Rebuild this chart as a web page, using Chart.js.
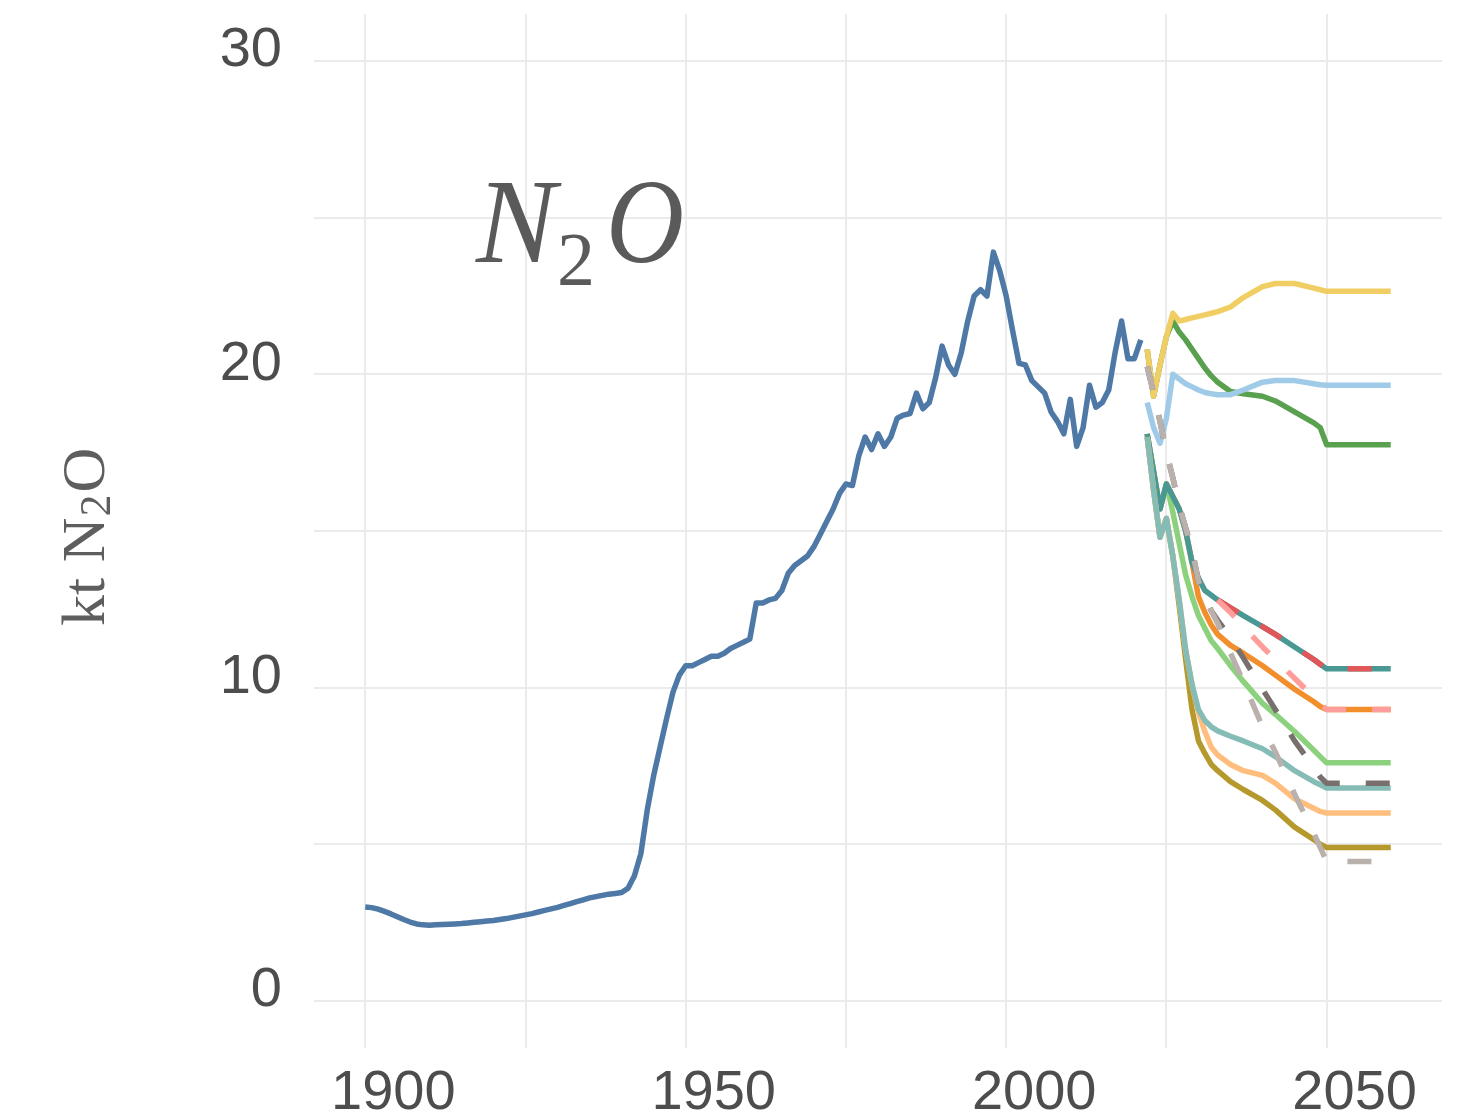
<!DOCTYPE html>
<html>
<head>
<meta charset="utf-8">
<title>N2O emissions</title>
<script src="https://cdn.jsdelivr.net/npm/chart.js@4/dist/chart.umd.min.js"></script>
<style>
  html, body { margin: 0; padding: 0; background: #ffffff; }
  #wrap { width: 1465px; height: 1119px; position: relative; }
</style>
</head>
<body>
<div id="wrap"><canvas id="chart" width="1465" height="1119"></canvas></div>
<script>
// ---- data -------------------------------------------------------------
// Annual emissions, kt N2O, starting in 1900
const historyStartYear = 1900;
const historyValues = [
  3.0, 2.98, 2.93, 2.86, 2.78, 2.69, 2.6, 2.52, 2.46, 2.43,
  2.42, 2.43, 2.44, 2.45, 2.46, 2.47, 2.49, 2.51, 2.53, 2.55,
  2.57, 2.6, 2.63, 2.67, 2.71, 2.75, 2.79, 2.84, 2.89, 2.94,
  2.99, 3.05, 3.11, 3.17, 3.23, 3.29, 3.33, 3.37, 3.41, 3.43,
  3.46, 3.6, 4.0, 4.7, 6.1, 7.2, 8.1, 9.0, 9.85, 10.4,
  10.7, 10.7, 10.8, 10.9, 11.0, 11.0, 11.1, 11.25, 11.35, 11.45,
  11.55, 12.7, 12.7, 12.8, 12.85, 13.1, 13.65, 13.9, 14.05, 14.2,
  14.5, 14.9, 15.3, 15.7, 16.2, 16.5, 16.45, 17.4, 18.0, 17.6,
  18.1, 17.7, 18.0, 18.6, 18.7, 18.75, 19.4, 18.9, 19.1, 19.9,
  20.9, 20.3, 20.0, 20.7, 21.7, 22.5, 22.7, 22.5, 23.9, 23.3,
  22.5, 21.4, 20.35, 20.3, 19.8, 19.6, 19.4, 18.8, 18.5, 18.1,
  19.2, 17.7, 18.3, 19.65, 18.95, 19.1, 19.5, 20.7, 21.7, 20.5,
  20.5, 21.1
];

// Scenario pathways, sampled at these years
const scenarioYears = [2022, 2023, 2024, 2025, 2026, 2027, 2028, 2029, 2030, 2031, 2032, 2033, 2035, 2037, 2040, 2042, 2045, 2048, 2049, 2050, 2060];

const scenarioYellow      = [20.8, 19.3, 20.3, 21.2, 21.95, 21.7, 21.75, 21.8, 21.85, 21.9, 21.95, 22.0, 22.15, 22.45, 22.8, 22.9, 22.9, 22.75, 22.7, 22.65, 22.65];
const scenarioGreen       = [20.8, 19.3, 20.3, 21.2, 21.7, 21.35, 21.1, 20.8, 20.5, 20.2, 19.95, 19.75, 19.45, 19.38, 19.3, 19.15, 18.8, 18.45, 18.3, 17.75, 17.75];
const scenarioLightBlue   = [19.1, 18.3, 17.8, 18.6, 20.0, 19.85, 19.7, 19.6, 19.5, 19.42, 19.38, 19.35, 19.35, 19.5, 19.75, 19.8, 19.8, 19.7, 19.67, 19.65, 19.65];
const scenarioTeal        = [18.1, 16.9, 15.7, 16.5, 16.1, 15.7, 15.0, 14.0, 13.5, 13.1, 12.95, 12.8, 12.55, 12.3, 11.95, 11.7, 11.3, 10.9, 10.75, 10.6, 10.6];
const scenarioOrange      = [18.1, 16.9, 15.7, 16.5, 16.1, 15.7, 15.0, 14.0, 12.9, 12.4, 12.0, 11.7, 11.35, 11.1, 10.7, 10.4, 9.95, 9.55, 9.4, 9.3, 9.3];
const scenarioLightGreen  = [18.1, 16.9, 15.7, 16.5, 15.6, 14.6, 13.6, 12.9, 12.3, 11.9, 11.5, 11.25, 10.7, 10.2, 9.5, 9.15, 8.6, 8.0, 7.8, 7.6, 7.6];
const scenarioRed         = [null, null, null, null, null, null, null, null, null, null, null, 12.8, 12.55, 12.3, 11.95, 11.7, 11.3, 10.9, 10.75, 10.6, 10.6];
const scenarioPink        = [null, null, null, null, null, null, null, null, null, null, null, 12.8, 12.4, 11.95, 11.3, 10.9, 10.3, 9.7, 9.5, 9.3, 9.3];
const scenarioOlive       = [18.0, 16.3, 14.8, 15.4, 14.2, 12.6, 10.9, 9.3, 8.3, 7.9, 7.55, 7.35, 7.0, 6.75, 6.4, 6.1, 5.55, 5.15, 5.0, 4.9, 4.9];
const scenarioLightOrange = [18.0, 16.3, 14.8, 15.4, 14.2, 12.8, 11.2, 10.1, 9.2, 8.6, 8.1, 7.85, 7.55, 7.35, 7.2, 6.95, 6.45, 6.15, 6.05, 6.0, 6.0];
const scenarioLightTeal   = [18.0, 16.3, 14.8, 15.4, 14.2, 12.8, 11.2, 10.1, 9.3, 8.95, 8.75, 8.62, 8.45, 8.3, 8.05, 7.8, 7.35, 7.0, 6.9, 6.8, 6.8];
const scenarioDarkGray    = [20.25, 19.4, 18.5, 17.5, 16.7, 15.8, 15.1, 14.4, 13.4, 12.9, 12.45, 12.15, 11.6, 10.95, 9.95, 9.3, 8.3, 7.45, 7.15, 6.95, 6.95];
const scenarioLightGray   = [20.25, 19.4, 18.5, 17.5, 16.7, 15.8, 15.1, 14.4, 13.4, 12.9, 12.45, 12.05, 11.1, 10.2, 8.75, 7.95, 6.6, 5.35, 4.9, 4.45, 4.45];

// Axis ticks
const xGridYears   = [1900, 1925, 1950, 1975, 2000, 2025, 2050];
const xTickLabels  = ['1900', '1950', '2000', '2050'];
const yGridValues  = [0, 5, 10, 15, 20, 25, 30];
const yTickLabels  = ['0', '10', '20', '30'];

// ---- chart ------------------------------------------------------------
const historyYears = historyValues.map((_, i) => historyStartYear + i);

function toPoints(years, values) {
  return values.map((v, i) => ({ x: years[i], y: v }));
}

function series(years, values, color, dashed) {
  return {
    data: toPoints(years, values),
    borderColor: color,
    backgroundColor: color,
    borderWidth: 5.5,
    borderDash: dashed ? [24, 26] : [],
    borderJoinStyle: 'round',
    borderCapStyle: 'butt',
    pointRadius: 0,
    tension: 0,
    fill: false,
    spanGaps: false
  };
}

// listed bottom-to-top in paint order
const datasets = [
  series(historyYears, historyValues, '#4E79A7'),
  series(scenarioYears, scenarioGreen, '#59A14F'),
  series(scenarioYears, scenarioYellow, '#F1CE63'),
  series(scenarioYears, scenarioLightBlue, '#A0CBE8'),
  series(scenarioYears, scenarioOrange, '#F28E2B'),
  series(scenarioYears, scenarioLightGreen, '#8CD17D'),
  series(scenarioYears, scenarioTeal, '#499894'),
  series(scenarioYears, scenarioRed, '#E15759', true),
  series(scenarioYears, scenarioPink, '#FF9D9A', true),
  series(scenarioYears, scenarioOlive, '#B6992D'),
  series(scenarioYears, scenarioLightOrange, '#FFBE7D'),
  series(scenarioYears, scenarioLightTeal, '#86BCB6'),
  series(scenarioYears, scenarioDarkGray, '#79706E', true),
  series(scenarioYears, scenarioLightGray, '#BAB0AC', true)
];
datasets.forEach((d, i) => { d.order = datasets.length - i; });

const sansFont = "'Liberation Sans', Arial, Helvetica, sans-serif";
const serifFont = "'Liberation Serif', 'Times New Roman', 'DejaVu Serif', serif";
const xLabelYears = xTickLabels.map(Number);
const yLabelValues = yTickLabels.map(Number);

// Chemical-formula labels with subscripts
const formulaLabels = {
  id: 'formulaLabels',
  afterDraw(chart) {
    const ctx = chart.ctx;
    ctx.save();

    // panel title: italic N, upright subscript 2, italic O
    ctx.fillStyle = '#5a5a5a';
    ctx.textBaseline = 'alphabetic';
    ctx.textAlign = 'left';
    ctx.font = 'italic 120px ' + serifFont;
    ctx.fillText('N', 476, 262);
    ctx.font = '76px ' + serifFont;
    ctx.fillText('2', 557, 285);
    ctx.font = 'italic 120px ' + serifFont;
    const oWidth = ctx.measureText('O').width;
    ctx.save();
    ctx.translate(606, 262);
    ctx.scale(78 / oWidth, 1);
    ctx.fillText('O', 0, 0);
    ctx.restore();

    // y-axis title, rotated
    ctx.fillStyle = '#5e5e5e';
    ctx.translate(104, 626);
    ctx.rotate(-Math.PI / 2);
    ctx.font = '62px ' + serifFont;
    const main = 'kt N';
    ctx.fillText(main, 0, 0);
    let w = ctx.measureText(main).width;
    ctx.font = '44px ' + serifFont;
    ctx.fillText('2', w + 1, 6);
    w += ctx.measureText('2').width + 3;
    ctx.font = '62px ' + serifFont;
    ctx.fillText('O', w, 0);

    ctx.restore();
  }
};

new Chart(document.getElementById('chart'), {
  type: 'line',
  data: { datasets },
  options: {
    responsive: false,
    animation: false,
    devicePixelRatio: 1,
    events: [],
    layout: { padding: { top: 14, right: 23, left: 0, bottom: 0 } },
    plugins: {
      legend: { display: false },
      tooltip: { enabled: false },
      title: { display: false }
    },
    scales: {
      x: {
        type: 'linear',
        min: 1892,
        max: 2068,
        afterBuildTicks(scale) { scale.ticks = xGridYears.map(v => ({ value: v })); },
        afterFit(scale) {
          scale.height = 71;
          scale.paddingLeft = 0;
          scale.paddingRight = 0;
        },
        border: { display: false },
        grid: { color: '#ebebeb', lineWidth: 2, drawTicks: false },
        ticks: {
          autoSkip: false,
          maxRotation: 0,
          padding: 12,
          labelOffset: 28,
          color: '#4d4d4d',
          font: { family: sansFont, size: 56 },
          callback(value) {
            const k = xLabelYears.indexOf(value);
            return k >= 0 ? xTickLabels[k] : '';
          }
        }
      },
      y: {
        type: 'linear',
        min: -1.5,
        max: 31.5,
        afterBuildTicks(scale) { scale.ticks = yGridValues.map(v => ({ value: v })); },
        afterFit(scale) {
          scale.width = 314;
          scale.paddingTop = 0;
          scale.paddingBottom = 0;
        },
        border: { display: false },
        grid: { color: '#ebebeb', lineWidth: 2, drawTicks: false },
        ticks: {
          autoSkip: false,
          padding: 32,
          labelOffset: -10,
          color: '#4d4d4d',
          font: { family: sansFont, size: 56 },
          callback(value) {
            const k = yLabelValues.indexOf(value);
            return k >= 0 ? yTickLabels[k] : '';
          }
        }
      }
    }
  },
  plugins: [formulaLabels]
});
</script>
</body>
</html>
